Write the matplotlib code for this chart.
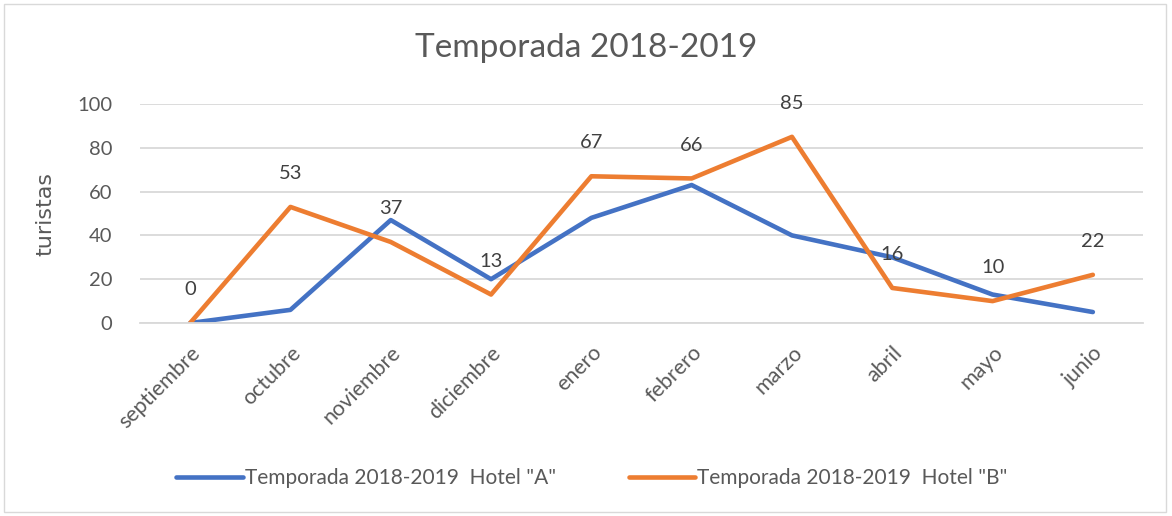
import matplotlib.pyplot as plt
from matplotlib.patches import Rectangle

meses = ["septiembre", "octubre", "noviembre", "diciembre", "enero",
         "febrero", "marzo", "abril", "mayo", "junio"]
hotel_a = [0, 6, 47, 20, 48, 63, 40, 30, 13, 5]
hotel_b = [0, 53, 37, 13, 67, 66, 85, 16, 10, 22]
yticks = [0, 20, 40, 60, 80, 100]

plt.rcParams['font.family'] = ['Lato', 'DejaVu Sans']
gris = "#595959"

fig = plt.figure(figsize=(11.72, 5.16), dpi=100)
ax = fig.add_axes([140/1172, 1-323/516, 1003/1172, 219/516])

x = list(range(len(meses)))
ax.plot(x, hotel_a, color="#4472C4", lw=3.3, solid_capstyle="round",
        label='Temporada 2018-2019  Hotel "A"')
ax.plot(x, hotel_b, color="#ED7D31", lw=3.3, solid_capstyle="round",
        label='Temporada 2018-2019  Hotel "B"')

for xi, v in zip(x, hotel_b):
    ax.annotate(str(v), (xi, v), xytext=(0, 24), textcoords="offset points",
                ha="center", va="center", fontsize=14.5, color="#404040")

ax.set_xlim(-0.5, len(meses) - 0.5)
ax.set_ylim(0, 100)
ax.set_yticks(yticks)
ax.set_xticks(x)
ax.set_xticklabels(meses, rotation=45, ha="right", rotation_mode="anchor")
ax.tick_params(axis="y", length=0, labelsize=14.5, colors=gris, pad=20)
ax.tick_params(axis="x", length=0, labelsize=15.5, colors=gris, pad=14)
ax.grid(axis="y", color="#D9D9D9", lw=1.3)
ax.set_axisbelow(True)
for s in ax.spines.values():
    s.set_visible(False)
ax.spines["bottom"].set_visible(True)
ax.spines["bottom"].set_color("#D9D9D9")
ax.spines["bottom"].set_linewidth(1.3)

ax.set_ylabel("turistas", fontsize=16, color=gris, labelpad=16, family="DejaVu Sans")
fig.text(0.5, 1 - 48/516, "Temporada 2018-2019", ha="center", va="center",
         fontsize=24, color=gris)

fig.legend(loc="center", bbox_to_anchor=(0.505, 1 - 478/516), ncol=2, frameon=False,
           fontsize=15, labelcolor=gris, handlelength=3.2, handletextpad=0.1,
           columnspacing=3.5)

fig.patches.append(Rectangle((4/1172, 4/516), 1162/1172, 508/516, transform=fig.transFigure,
                             fill=False, edgecolor="#D9D9D9", lw=1))

fig.savefig("out.png", dpi=100)
